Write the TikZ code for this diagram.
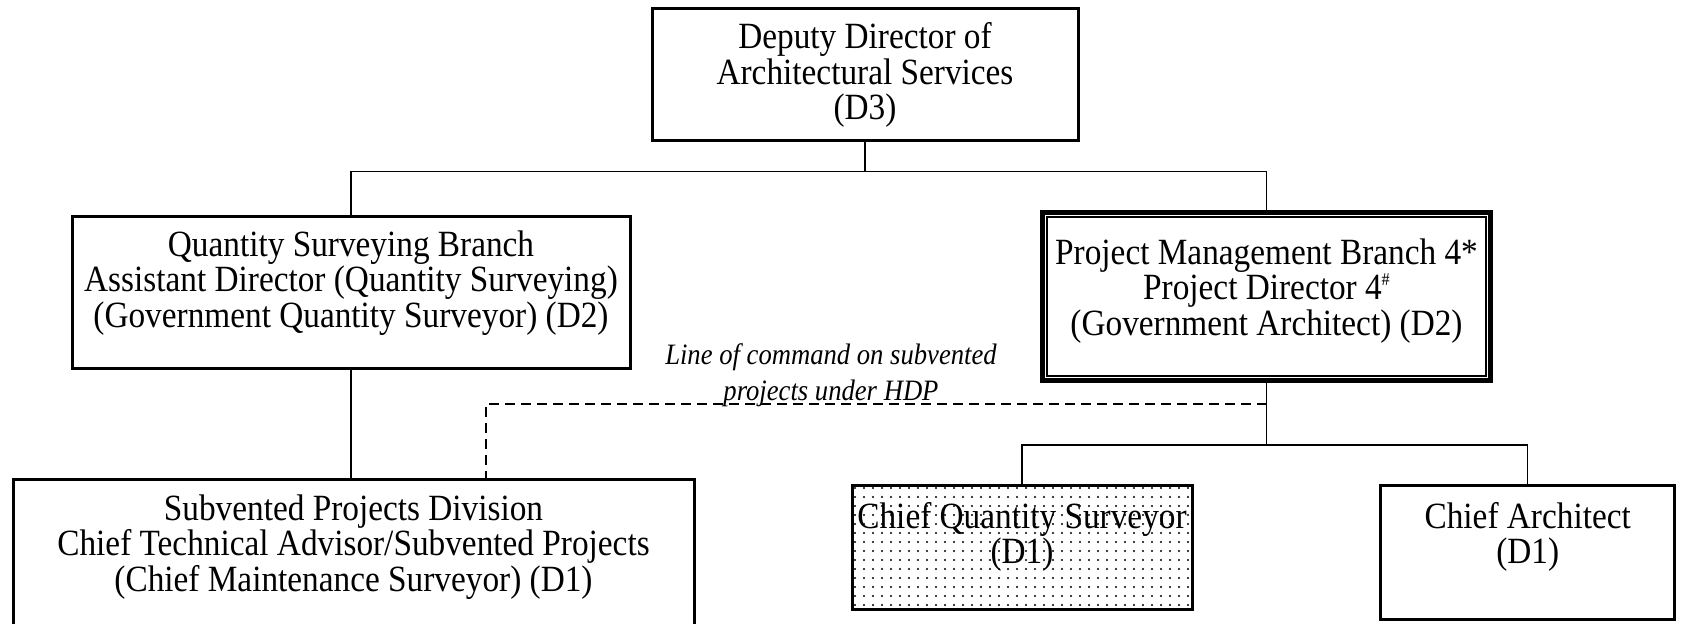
\documentclass[tikz,border=0pt]{standalone}
\usepackage{fontspec}
\setmainfont[FakeStretch=0.9]{Liberation Serif}
\usetikzlibrary{calc,patterns.meta}

\begin{document}
\begin{tikzpicture}[x=0.5pt,y=-0.5pt,
  box/.style={draw, line width=1.5pt, inner sep=0pt},
  wire/.style={line width=0.75pt},
  cmdline/.style={line width=1pt, dash pattern=on 5pt off 3pt},
  txt/.style={align=center, inner sep=0pt, font=\fontsize{18.5}{17.7}\selectfont},
  note/.style={align=center, inner sep=0pt, font=\fontsize{14.8}{18.2}\selectfont\itshape}]

\useasboundingbox (0,0) rectangle (1681,623);

% boxes
\node[box, minimum width=213pt, minimum height=65.9pt] (top) at (865,74.5) {};
\node[box, minimum width=279pt, minimum height=76.1pt] (qs) at (351,292.7) {};
\node[box, line width=2pt, minimum width=224.5pt, minimum height=84.5pt] (pm) at (1266.5,296.5) {};
\draw[line width=0.5pt] ($(pm.north west)+(4.5,4.5)$) rectangle ($(pm.south east)+(-4.5,-4.5)$);
\draw[line width=1pt] ($(pm.north west)+(7,7)$) rectangle ($(pm.south east)+(-7,-7)$);
\node[box, minimum width=340.5pt, minimum height=74.5pt] (bl) at (353.5,553.7) {};
\node[box, pattern={Dots[distance=4.5pt, radius=0.55pt]}, minimum width=170pt, minimum height=61.65pt] (cqs) at (1022,547.4) {};
\node[box, minimum width=146.75pt, minimum height=67pt] (ca) at (1527.7,552.7) {};

% texts
\node[txt] (toptext) at (865,75) {Deputy Director of\\Architectural Services\\(D3)};
\node[txt] (qstext) at (351,283) {Quantity Surveying Branch\\Assistant Director (Quantity Surveying)\\(Government Quantity Surveyor) (D2)};
\node[txt] (pmtext) at (1266.5,291) {Project Management Branch 4*\\Project Director 4\smash{\raisebox{0.4em}{\fontsize{9}{9}\selectfont\#}}\\(Government Architect) (D2)};
\node[txt] (bltext) at (353.5,547) {Subvented Projects Division\\Chief Technical Advisor/Subvented Projects\\(Chief Maintenance Surveyor) (D1)};
\node[txt] (cqstext) at (1022,537) {Chief Quantity Surveyor\\(D1)};
\node[txt] (catext) at (1527.7,537) {Chief Architect\\(D1)};
\node[note] (cmdnote) at (831,375) {Line of command on subvented\\projects under HDP};

% solid lines of reporting
\coordinate (bus1) at (866,171.5);
\coordinate (bus2) at (1266.5,445);
\draw[wire] (top.south) -- (top.south |- bus1);
\draw[wire] (qs.north) |- (bus1) -| (pm.north);
\draw[wire] (qs.south) -- (qs.south |- bl.north);
\draw[wire] (pm.south) -- (pm.south |- bus2);
\draw[wire] (cqs.north) |- (bus2) -| (ca.north);

% dashed line of command
\coordinate (dj) at (1266.5,404.2);
\coordinate (dfoot) at (485.7,479.2);
\draw[cmdline] (dj) -| (dfoot);
\end{tikzpicture}
\end{document}
